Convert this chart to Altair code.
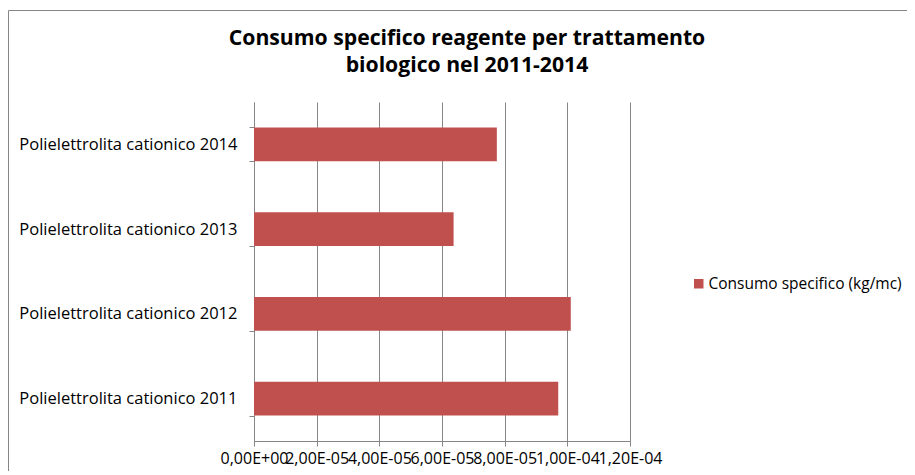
import altair as alt
import pandas as pd

categories = [
    "Polielettrolita cationico 2014",
    "Polielettrolita cationico 2013",
    "Polielettrolita cationico 2012",
    "Polielettrolita cationico 2011",
]
values = [7.75e-05, 6.37e-05, 1.011e-04, 9.71e-05]
series_name = "Consumo specifico (kg/mc)"
tick_values = [0, 2e-05, 4e-05, 6e-05, 8e-05, 1e-04, 1.2e-04]
tick_labels = ["0,00E+00", "2,00E-05", "4,00E-05", "6,00E-05", "8,00E-05", "1,00E-04", "1,20E-04"]
title_lines = ["Consumo specifico reagente per trattamento", "biologico nel 2011-2014"]

df = pd.DataFrame({"cat": categories, "val": values, "series": [series_name] * len(categories)})

FONT = "Open Sans"
GRID = "#868686"
BAR = "#C0504D"

label_expr = "[" + ",".join("'%s'" % t for t in tick_labels) + "][round(datum.value / 2e-5)]"

bars = alt.Chart(df).mark_bar(color=BAR).encode(
    x=alt.X(
        "val:Q",
        scale=alt.Scale(domain=[0, 1.2e-04], nice=False, zero=True),
        axis=alt.Axis(
            values=tick_values,
            labelExpr=label_expr,
            title=None,
            grid=True,
            gridColor=GRID,
            gridWidth=1,
            domainColor=GRID,
            tickColor=GRID,
            tickSize=5,
            labelFont=FONT,
            labelFontSize=16,
            labelColor="#000000",
            labelOverlap=False,
            labelFlush=False,
            labelPadding=4,
        ),
    ),
    y=alt.Y(
        "cat:N",
        sort=categories,
        scale=alt.Scale(paddingInner=0.6, paddingOuter=0.3),
        axis=alt.Axis(
            title=None,
            domainColor=GRID,
            tickColor=GRID,
            tickSize=5,
            tickBand="extent",
            labelFont=FONT,
            labelFontSize=16.5,
            labelColor="#000000",
            labelPadding=12,
            labelLimit=400,
        ),
    ),
    color=alt.Color(
        "series:N",
        scale=alt.Scale(range=[BAR]),
        legend=alt.Legend(
            title=None,
            orient="none",
            legendX=437,
            legendY=174,
            symbolType="square",
            symbolSize=90,
            symbolStrokeWidth=0,
            symbolOpacity=1,
            labelFont=FONT,
            labelFontSize=15.5,
            labelColor="#000000",
            labelLimit=300,
            labelOffset=2,
        ),
    ),
)

frame = alt.Chart(alt.Data(values=[{}])).mark_rect(
    fill="transparent", stroke=GRID, strokeWidth=1
).encode(
    x=alt.value(-245.5),
    x2=alt.value(700),
    y=alt.value(-91.5),
    y2=alt.value(420),
)

chart = alt.layer(frame, bars).properties(
    width=376,
    height=339,
    title=alt.TitleParams(
        text=title_lines,
        font=FONT,
        fontSize=21.2,
        fontWeight="bold",
        color="#000000",
        anchor="middle",
        frame="group",
        dx=25,
        offset=-66,
        lineHeight=26.5,
    ),
    autosize=alt.AutoSizeParams(type="none"),
    padding={"left": 246, "top": 94, "right": 277, "bottom": 30},
).configure_view(stroke=None)

chart.save("out.html", embed_options={"renderer": "svg", "actions": False})
